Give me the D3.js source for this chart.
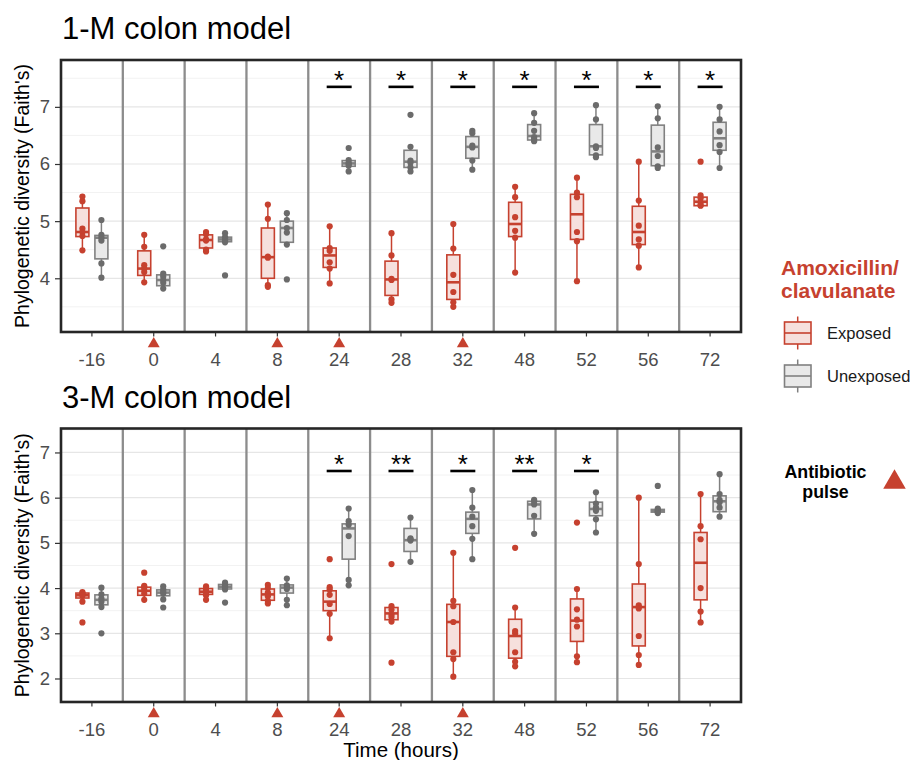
<!DOCTYPE html>
<html>
<head>
<meta charset="utf-8">
<script src="https://cdn.jsdelivr.net/npm/d3@7/dist/d3.min.js"></script>
<style>
  body { margin: 0; background: #fff; }
  text { font-family: "Liberation Sans", Arial, Helvetica, sans-serif; }
</style>
</head>
<body>
<svg id="chart" width="912" height="760"></svg>
<script>
// ---- data ----
const times = ['-16', '0', '4', '8', '24', '28', '32', '48', '52', '56', '72'];
const pulseTimes = ['0', '8', '24', '32'];
const groups = ['Exposed', 'Unexposed'];

// box stats per time: [lower whisker, q1, median, q3, upper whisker]
const oneMExposedStats = [
  [4.49, 4.73, 4.81, 5.23, 5.43], [3.92, 4.05, 4.17, 4.48, 4.76], [4.46, 4.53, 4.67, 4.76, 4.81],
  [3.86, 4.00, 4.37, 4.88, 5.29], [3.91, 4.19, 4.40, 4.53, 4.91], [3.56, 3.70, 3.98, 4.30, 4.79],
  [3.49, 3.63, 3.93, 4.41, 4.95], [4.10, 4.73, 4.95, 5.33, 5.60], [3.95, 4.68, 5.12, 5.47, 5.76],
  [4.19, 4.59, 4.81, 5.26, 6.04], [5.26, 5.27, 5.34, 5.42, 5.45]
];
const oneMUnexposedStats = [
  [4.01, 4.34, 4.71, 4.75, 5.02], [3.82, 3.87, 3.97, 4.06, 4.08], [4.62, 4.64, 4.68, 4.72, 4.79],
  [4.59, 4.63, 4.88, 5.00, 5.14], [5.87, 5.96, 6.01, 6.06, 6.07], [5.87, 5.94, 6.04, 6.24, 6.30],
  [5.90, 6.10, 6.30, 6.48, 6.58], [6.40, 6.42, 6.49, 6.69, 6.89], [6.12, 6.16, 6.31, 6.69, 7.03],
  [5.93, 5.97, 6.22, 6.68, 7.01], [5.93, 6.24, 6.45, 6.73, 7.00]
];
const oneMExposedPoints = [
  [5.43, 5.35, 4.87, 4.81, 4.74, 4.49], [4.76, 4.55, 4.23, 4.17, 4.11, 3.93], [4.81, 4.77, 4.68, 4.66, 4.50, 4.47],
  [5.29, 5.04, 4.38, 4.36, 3.88, 3.85], [4.91, 4.53, 4.48, 4.28, 4.17, 3.91], [4.79, 4.40, 3.99, 3.97, 3.63, 3.57],
  [4.95, 4.52, 4.06, 3.76, 3.58, 3.50], [5.60, 5.42, 5.07, 4.83, 4.71, 4.10], [5.76, 5.50, 5.42, 4.81, 4.65, 3.95],
  [6.04, 5.36, 4.92, 4.68, 4.57, 4.19], [6.04, 5.45, 5.40, 5.33, 5.28, 5.27]
];
const oneMUnexposedPoints = [
  [5.02, 4.76, 4.71, 4.66, 4.26, 4.01], [4.56, 4.08, 4.03, 3.97, 3.92, 3.82], [4.79, 4.72, 4.69, 4.66, 4.63, 4.05],
  [5.14, 5.02, 4.88, 4.80, 4.59, 3.98], [6.28, 6.07, 6.02, 6.00, 5.97, 5.87], [6.86, 6.30, 6.06, 6.02, 5.94, 5.87],
  [6.58, 6.54, 6.32, 6.29, 6.06, 5.90], [6.89, 6.72, 6.58, 6.47, 6.43, 6.40], [7.03, 6.78, 6.31, 6.28, 6.15, 6.12],
  [7.01, 6.80, 6.29, 6.14, 5.96, 5.93], [7.00, 6.78, 6.57, 6.33, 6.21, 5.93]
];
const oneMSig = ['', '', '', '', '*', '*', '*', '*', '*', '*', '*'];

const threeMExposedStats = [
  [3.70, 3.78, 3.84, 3.89, 3.91], [3.74, 3.84, 3.94, 4.02, 4.05], [3.74, 3.86, 3.92, 3.99, 4.04],
  [3.65, 3.73, 3.86, 3.98, 4.07], [2.89, 3.50, 3.70, 3.94, 4.02], [3.26, 3.30, 3.44, 3.57, 3.60],
  [2.04, 2.49, 3.25, 3.64, 4.78], [2.27, 2.45, 2.94, 3.31, 3.57], [2.36, 2.82, 3.28, 3.76, 3.98],
  [2.30, 2.72, 3.58, 4.09, 6.00], [3.24, 3.74, 4.56, 5.23, 6.08]
];
const threeMUnexposedStats = [
  [3.57, 3.63, 3.74, 3.85, 4.01], [3.75, 3.83, 3.90, 3.96, 4.04], [3.95, 3.98, 4.03, 4.08, 4.12],
  [3.62, 3.89, 4.01, 4.07, 4.21], [4.05, 4.64, 5.32, 5.42, 5.76], [4.58, 4.81, 5.06, 5.32, 5.56],
  [4.64, 5.21, 5.53, 5.68, 6.17], [5.20, 5.53, 5.85, 5.92, 5.95], [5.23, 5.60, 5.75, 5.90, 6.12],
  [5.66, 5.68, 5.71, 5.74, 5.76], [5.58, 5.69, 5.92, 6.04, 6.52]
];
const threeMExposedPoints = [
  [3.91, 3.89, 3.86, 3.83, 3.70, 3.24], [4.34, 4.05, 4.02, 3.96, 3.88, 3.74], [4.04, 3.99, 3.94, 3.90, 3.84, 3.74],
  [4.07, 4.00, 3.90, 3.82, 3.72, 3.66], [4.64, 4.02, 3.97, 3.85, 3.65, 3.43, 2.89], [4.53, 3.60, 3.52, 3.41, 3.36, 3.26, 2.35],
  [4.78, 3.72, 3.60, 3.25, 2.58, 2.43, 2.04], [4.89, 3.57, 3.05, 3.00, 2.58, 2.37, 2.27], [5.45, 3.98, 3.53, 3.30, 3.15, 2.49, 2.36],
  [6.00, 4.53, 3.62, 3.55, 2.94, 2.52, 2.30], [6.08, 5.37, 5.08, 4.00, 3.48, 3.24]
];
const threeMUnexposedPoints = [
  [4.01, 3.86, 3.77, 3.70, 3.58, 3.00], [4.04, 3.97, 3.92, 3.88, 3.75, 3.57], [4.12, 4.08, 4.04, 4.01, 3.97, 3.68],
  [4.21, 4.06, 4.02, 3.98, 3.74, 3.62], [5.76, 5.48, 5.40, 5.15, 4.18, 4.06], [5.56, 5.10, 5.08, 5.05, 4.58],
  [6.17, 5.78, 5.58, 5.37, 5.09, 4.64], [5.95, 5.92, 5.85, 5.60, 5.20], [6.12, 5.87, 5.78, 5.71, 5.52, 5.23],
  [6.26, 5.76, 5.73, 5.70, 5.68, 5.66], [6.52, 6.08, 5.95, 5.90, 5.78, 5.58]
];
const threeMSig = ['', '', '', '', '*', '**', '*', '**', '*', '', ''];

const oneMTicks = [4, 5, 6, 7];
const threeMTicks = [2, 3, 4, 5, 6, 7];

// ---- style ----
const RED = '#C6412F', RED_FILL = '#F6E0DD';
const GREY = '#808080', GREY_PT = '#6B6B6B', GREY_FILL = '#E9E9E9';
const TICK_TXT = '#4D4D4D';

const svg = d3.select('#chart');
const x = d3.scaleBand().domain(times).range([61, 741]);
const dodge = d3.scaleBand().domain(groups).range([-19, 19]);
const boxW = 13;
const colors = {
  Exposed: { stroke: RED, fill: RED_FILL, pt: RED },
  Unexposed: { stroke: GREY, fill: GREY_FILL, pt: GREY_PT }
};

function panel(p) {
  const y = d3.scaleLinear().domain(p.domain).range([p.bottom, p.top]);
  const g = svg.append('g');
  const left = x.range()[0], right = x.range()[1];

  g.append('text').attr('x', 62).attr('y', p.titleY)
    .attr('font-size', 31).attr('fill', '#000').text(p.title);

  // grid
  const minor = d3.range(Math.ceil(p.domain[0]) - 0.5, p.domain[1], 1).filter(v => v > p.domain[0]);
  g.selectAll('.minor').data(minor).join('line')
    .attr('x1', left).attr('x2', right).attr('y1', d => y(d)).attr('y2', d => y(d))
    .attr('stroke', '#F2F2F2').attr('stroke-width', 1);
  g.selectAll('.major').data(p.ticks).join('line')
    .attr('x1', left).attr('x2', right).attr('y1', d => y(d)).attr('y2', d => y(d))
    .attr('stroke', '#E6E6E6').attr('stroke-width', 1.2);

  // facet dividers
  g.selectAll('.div').data(times.slice(1)).join('line')
    .attr('x1', d => x(d)).attr('x2', d => x(d)).attr('y1', p.top).attr('y2', p.bottom)
    .attr('stroke', '#8C8C8C').attr('stroke-width', 2.3);

  // boxes
  groups.forEach(grp => {
    const stats = grp === 'Exposed' ? p.expStats : p.unexpStats;
    const pts = grp === 'Exposed' ? p.expPts : p.unexpPts;
    const c = colors[grp];
    times.forEach((t, i) => {
      const cx = x(t) + x.bandwidth() / 2 + dodge(grp) + dodge.bandwidth() / 2;
      const [lo, q1, med, q3, hi] = stats[i];
      const bg = g.append('g');
      bg.append('line').attr('x1', cx).attr('x2', cx).attr('y1', y(hi)).attr('y2', y(q3))
        .attr('stroke', c.stroke).attr('stroke-width', 1.5);
      bg.append('line').attr('x1', cx).attr('x2', cx).attr('y1', y(q1)).attr('y2', y(lo))
        .attr('stroke', c.stroke).attr('stroke-width', 1.5);
      bg.append('rect').attr('x', cx - boxW / 2).attr('width', boxW)
        .attr('y', y(q3)).attr('height', Math.max(0.5, y(q1) - y(q3)))
        .attr('fill', c.fill).attr('stroke', c.stroke).attr('stroke-width', 1.6);
      bg.append('line').attr('x1', cx - boxW / 2).attr('x2', cx + boxW / 2)
        .attr('y1', y(med)).attr('y2', y(med))
        .attr('stroke', c.stroke).attr('stroke-width', 2.6);
      bg.selectAll('circle').data(pts[i]).join('circle')
        .attr('cx', cx).attr('cy', d => y(d)).attr('r', 3.1).attr('fill', c.pt);
    });
  });

  // significance
  times.forEach((t, i) => {
    if (!p.sig[i]) return;
    const cx = x(t) + x.bandwidth() / 2;
    g.append('line').attr('x1', cx - 12.5).attr('x2', cx + 12.5)
      .attr('y1', y(p.sigLevel)).attr('y2', y(p.sigLevel))
      .attr('stroke', '#000').attr('stroke-width', 2.6);
    g.append('text').attr('x', cx).attr('y', y(p.sigLevel) + 2)
      .attr('text-anchor', 'middle').attr('font-size', 26).attr('fill', '#000').text(p.sig[i]);
  });

  // border
  g.append('rect').attr('x', left).attr('y', p.top).attr('width', right - left).attr('height', p.bottom - p.top)
    .attr('fill', 'none').attr('stroke', '#262626').attr('stroke-width', 2.6);

  // y axis
  const ya = g.append('g').attr('transform', `translate(${left - 1},0)`)
    .call(d3.axisLeft(y).tickValues(p.ticks).tickSize(5).tickPadding(5).tickFormat(d3.format('d')));
  ya.select('.domain').remove();
  ya.selectAll('line').attr('stroke', '#333').attr('stroke-width', 1.2);
  ya.selectAll('text').attr('font-size', 18.5).attr('fill', TICK_TXT)
    .style('font-family', '"Liberation Sans", Arial, sans-serif');

  // x axis (per facet ticks)
  const xa = g.append('g').attr('transform', `translate(0,${p.bottom + 1})`)
    .call(d3.axisBottom(x).tickSize(3.5).tickPadding(16));
  xa.select('.domain').remove();
  xa.selectAll('line').attr('stroke', '#333').attr('stroke-width', 1.2);
  xa.selectAll('text').attr('font-size', 18.5).attr('fill', TICK_TXT)
    .style('font-family', '"Liberation Sans", Arial, sans-serif');

  // antibiotic pulse markers
  g.selectAll('.pulse').data(pulseTimes).join('path')
    .attr('d', d3.symbol(d3.symbolTriangle, 62)())
    .attr('transform', d => `translate(${x(d) + x.bandwidth() / 2},${p.bottom + 11.9})`)
    .attr('fill', RED);

  // y label
  g.append('text')
    .attr('transform', `translate(29,${(p.top + p.bottom) / 2}) rotate(-90)`)
    .attr('text-anchor', 'middle').attr('font-size', 19.5).attr('fill', '#000')
    .text("Phylogenetic diversity (Faith's)");
}

panel({
  title: '1-M colon model', titleY: 39, top: 60, bottom: 332, domain: [3.06, 7.82], ticks: oneMTicks,
  expStats: oneMExposedStats, unexpStats: oneMUnexposedStats,
  expPts: oneMExposedPoints, unexpPts: oneMUnexposedPoints, sig: oneMSig, sigLevel: 7.35
});
panel({
  title: '3-M colon model', titleY: 408, top: 428.5, bottom: 702, domain: [1.48, 7.53], ticks: threeMTicks,
  expStats: threeMExposedStats, unexpStats: threeMUnexposedStats,
  expPts: threeMExposedPoints, unexpPts: threeMUnexposedPoints, sig: threeMSig, sigLevel: 6.59
});

// x title
svg.append('text').attr('x', 401).attr('y', 757).attr('text-anchor', 'middle')
  .attr('font-size', 20.5).attr('fill', '#000').text('Time (hours)');

// legend
const lg = svg.append('g');
lg.append('text').attr('x', 781).attr('y', 275).attr('font-size', 21).attr('font-weight', 'bold')
  .attr('fill', RED).text('Amoxicillin/');
lg.append('text').attr('x', 781).attr('y', 298).attr('font-size', 21).attr('font-weight', 'bold')
  .attr('fill', RED).text('clavulanate');
groups.forEach((grp, i) => {
  const c = colors[grp];
  const cy = 333 + i * 43;
  const k = lg.append('g');
  k.append('line').attr('x1', 797.7).attr('x2', 797.7).attr('y1', cy - 16.5).attr('y2', cy + 16.5)
    .attr('stroke', c.stroke).attr('stroke-width', 1.5);
  k.append('rect').attr('x', 784.5).attr('y', cy - 11).attr('width', 26.5).attr('height', 22)
    .attr('fill', c.fill).attr('stroke', c.stroke).attr('stroke-width', 1.6);
  k.append('line').attr('x1', 784.5).attr('x2', 811).attr('y1', cy).attr('y2', cy)
    .attr('stroke', c.stroke).attr('stroke-width', 1.6);
  k.append('text').attr('x', 827).attr('y', cy).attr('dy', '0.35em').attr('font-size', 16.5)
    .attr('fill', '#1a1a1a').text(grp);
});
lg.append('text').attr('x', 825.5).attr('y', 477.5).attr('text-anchor', 'middle').attr('font-size', 17.8)
  .attr('font-weight', 'bold').attr('fill', '#000').text('Antibiotic');
lg.append('text').attr('x', 825.5).attr('y', 497.5).attr('text-anchor', 'middle').attr('font-size', 17.8)
  .attr('font-weight', 'bold').attr('fill', '#000').text('pulse');
lg.append('path').attr('d', d3.symbol(d3.symbolTriangle, 220)())
  .attr('transform', 'translate(894.5,482.3)').attr('fill', RED);
</script>
</body>
</html>
